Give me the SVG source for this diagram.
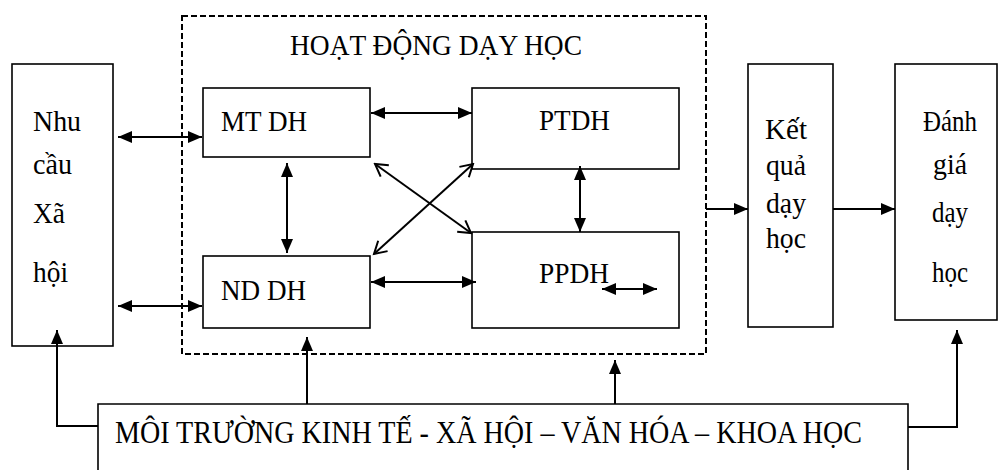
<svg xmlns="http://www.w3.org/2000/svg" width="999" height="470" viewBox="0 0 999 470">
<style>
.box{fill:#fff;stroke:#000;stroke-width:1.6}
.dash{fill:none;stroke:#000;stroke-width:2;stroke-dasharray:6 3}
text{font-family:'Liberation Serif',Tinos,'Times New Roman','DejaVu Serif','Noto Serif',serif;fill:#000}
.t{font-size:30px}
.tb{font-size:31px}
.ca{fill:none;stroke:#000;stroke-width:2;marker-end:url(#ah)}
.cb{fill:none;stroke:#000;stroke-width:2;marker-start:url(#ahs);marker-end:url(#ah)}
.co{fill:none;stroke:#000;stroke-width:2;marker-start:url(#aos);marker-end:url(#ao)}
</style>
<defs>
<marker id="ah" markerUnits="userSpaceOnUse" markerWidth="16" markerHeight="14" refX="14" refY="6" orient="auto"><path d="M0,0 L14,6 L0,12 z" fill="#000"/></marker>
<marker id="ahs" markerUnits="userSpaceOnUse" markerWidth="16" markerHeight="14" refX="0" refY="6" orient="auto"><path d="M14,0 L0,6 L14,12 z" fill="#000"/></marker>
<marker id="ao" markerUnits="userSpaceOnUse" markerWidth="18" markerHeight="18" refX="14" refY="8" orient="auto"><path d="M2,1 L14,8 L2,15" fill="none" stroke="#000" stroke-width="2"/></marker>
<marker id="aos" markerUnits="userSpaceOnUse" markerWidth="18" markerHeight="18" refX="2" refY="8" orient="auto"><path d="M14,1 L2,8 L14,15" fill="none" stroke="#000" stroke-width="2"/></marker>
</defs>
<rect width="999" height="470" fill="#fff"/>

<g id="hoat-dong">
<rect class="dash" x="182" y="16" width="524" height="338"/>
<text class="t" font-family="Liberation Serif, serif" x="290" y="55" textLength="292" lengthAdjust="spacingAndGlyphs">HOẠT ĐỘNG DẠY HỌC</text>
</g>

<g id="nhu-cau">
<rect class="box" x="12" y="64" width="101" height="282"/>
<text class="t" x="33" y="131" textLength="48" lengthAdjust="spacingAndGlyphs">Nhu</text>
<text class="t" x="33" y="174" textLength="39" lengthAdjust="spacingAndGlyphs">cầu</text>
<text class="t" x="33" y="223" textLength="32" lengthAdjust="spacingAndGlyphs">Xã</text>
<text class="t" x="33" y="282" textLength="35" lengthAdjust="spacingAndGlyphs">hội</text>
</g>

<g id="mtdh">
<rect class="box" x="203" y="88" width="167" height="69"/>
<text class="t" x="221" y="131" textLength="86" lengthAdjust="spacingAndGlyphs">MT DH</text>
</g>

<g id="ptdh">
<rect class="box" x="472" y="88" width="207" height="81"/>
<text class="t" x="539" y="130" textLength="71" lengthAdjust="spacingAndGlyphs">PTDH</text>
</g>

<g id="nddh">
<rect class="box" x="203" y="256" width="167" height="72"/>
<text class="t" x="221" y="300" textLength="85" lengthAdjust="spacingAndGlyphs">ND DH</text>
</g>

<g id="ppdh">
<rect class="box" x="472" y="232" width="207" height="96"/>
<text class="t" x="539" y="283" textLength="70" lengthAdjust="spacingAndGlyphs">PPDH</text>
</g>

<g id="ket-qua">
<rect class="box" x="748" y="64" width="85" height="263"/>
<text class="t" x="765" y="139" textLength="42" lengthAdjust="spacingAndGlyphs">Kết</text>
<text class="t" x="766" y="175" textLength="40" lengthAdjust="spacingAndGlyphs">quả</text>
<text class="t" x="766" y="213" textLength="40" lengthAdjust="spacingAndGlyphs">dạy</text>
<text class="t" x="766" y="248" textLength="40" lengthAdjust="spacingAndGlyphs">học</text>
</g>

<g id="danh-gia">
<rect class="box" x="895" y="64" width="102" height="256"/>
<text class="t" x="923" y="131" textLength="54" lengthAdjust="spacingAndGlyphs">Đánh</text>
<text class="t" x="933" y="174" textLength="34" lengthAdjust="spacingAndGlyphs">giá</text>
<text class="t" x="932" y="222" textLength="36" lengthAdjust="spacingAndGlyphs">dạy</text>
<text class="t" x="932" y="282" textLength="36" lengthAdjust="spacingAndGlyphs">học</text>
</g>

<g id="moi-truong">
<path class="box" d="M98,475 V404 H908 V475"/>
<text class="tb" x="115" y="443" textLength="747" lengthAdjust="spacingAndGlyphs">MÔI TRƯỜNG KINH TẾ - XÃ HỘI – VĂN HÓA – KHOA HỌC</text>
</g>

<g id="connectors">
<line class="cb" x1="118" y1="137" x2="202" y2="137"/>
<line class="cb" x1="118" y1="306" x2="202" y2="306"/>
<line class="cb" x1="371" y1="113" x2="472" y2="113"/>
<line class="cb" x1="371" y1="282" x2="476" y2="282"/>
<line class="cb" x1="287" y1="163" x2="287" y2="253"/>
<line class="cb" x1="580" y1="166" x2="580" y2="232"/>
<line class="co" x1="375" y1="164" x2="471" y2="233"/>
<line class="co" x1="473" y1="164" x2="374" y2="254"/>
<line class="cb" x1="602" y1="289" x2="657" y2="289"/>
<line class="ca" x1="706" y1="209" x2="748" y2="209"/>
<line class="ca" x1="833" y1="209" x2="895" y2="209"/>
<path class="ca" d="M98,426 H57 V330"/>
<path class="ca" d="M908,427 H957 V330"/>
<line class="ca" x1="307" y1="404" x2="307" y2="337"/>
<line class="ca" x1="615" y1="404" x2="615" y2="360"/>
</g>
</svg>
